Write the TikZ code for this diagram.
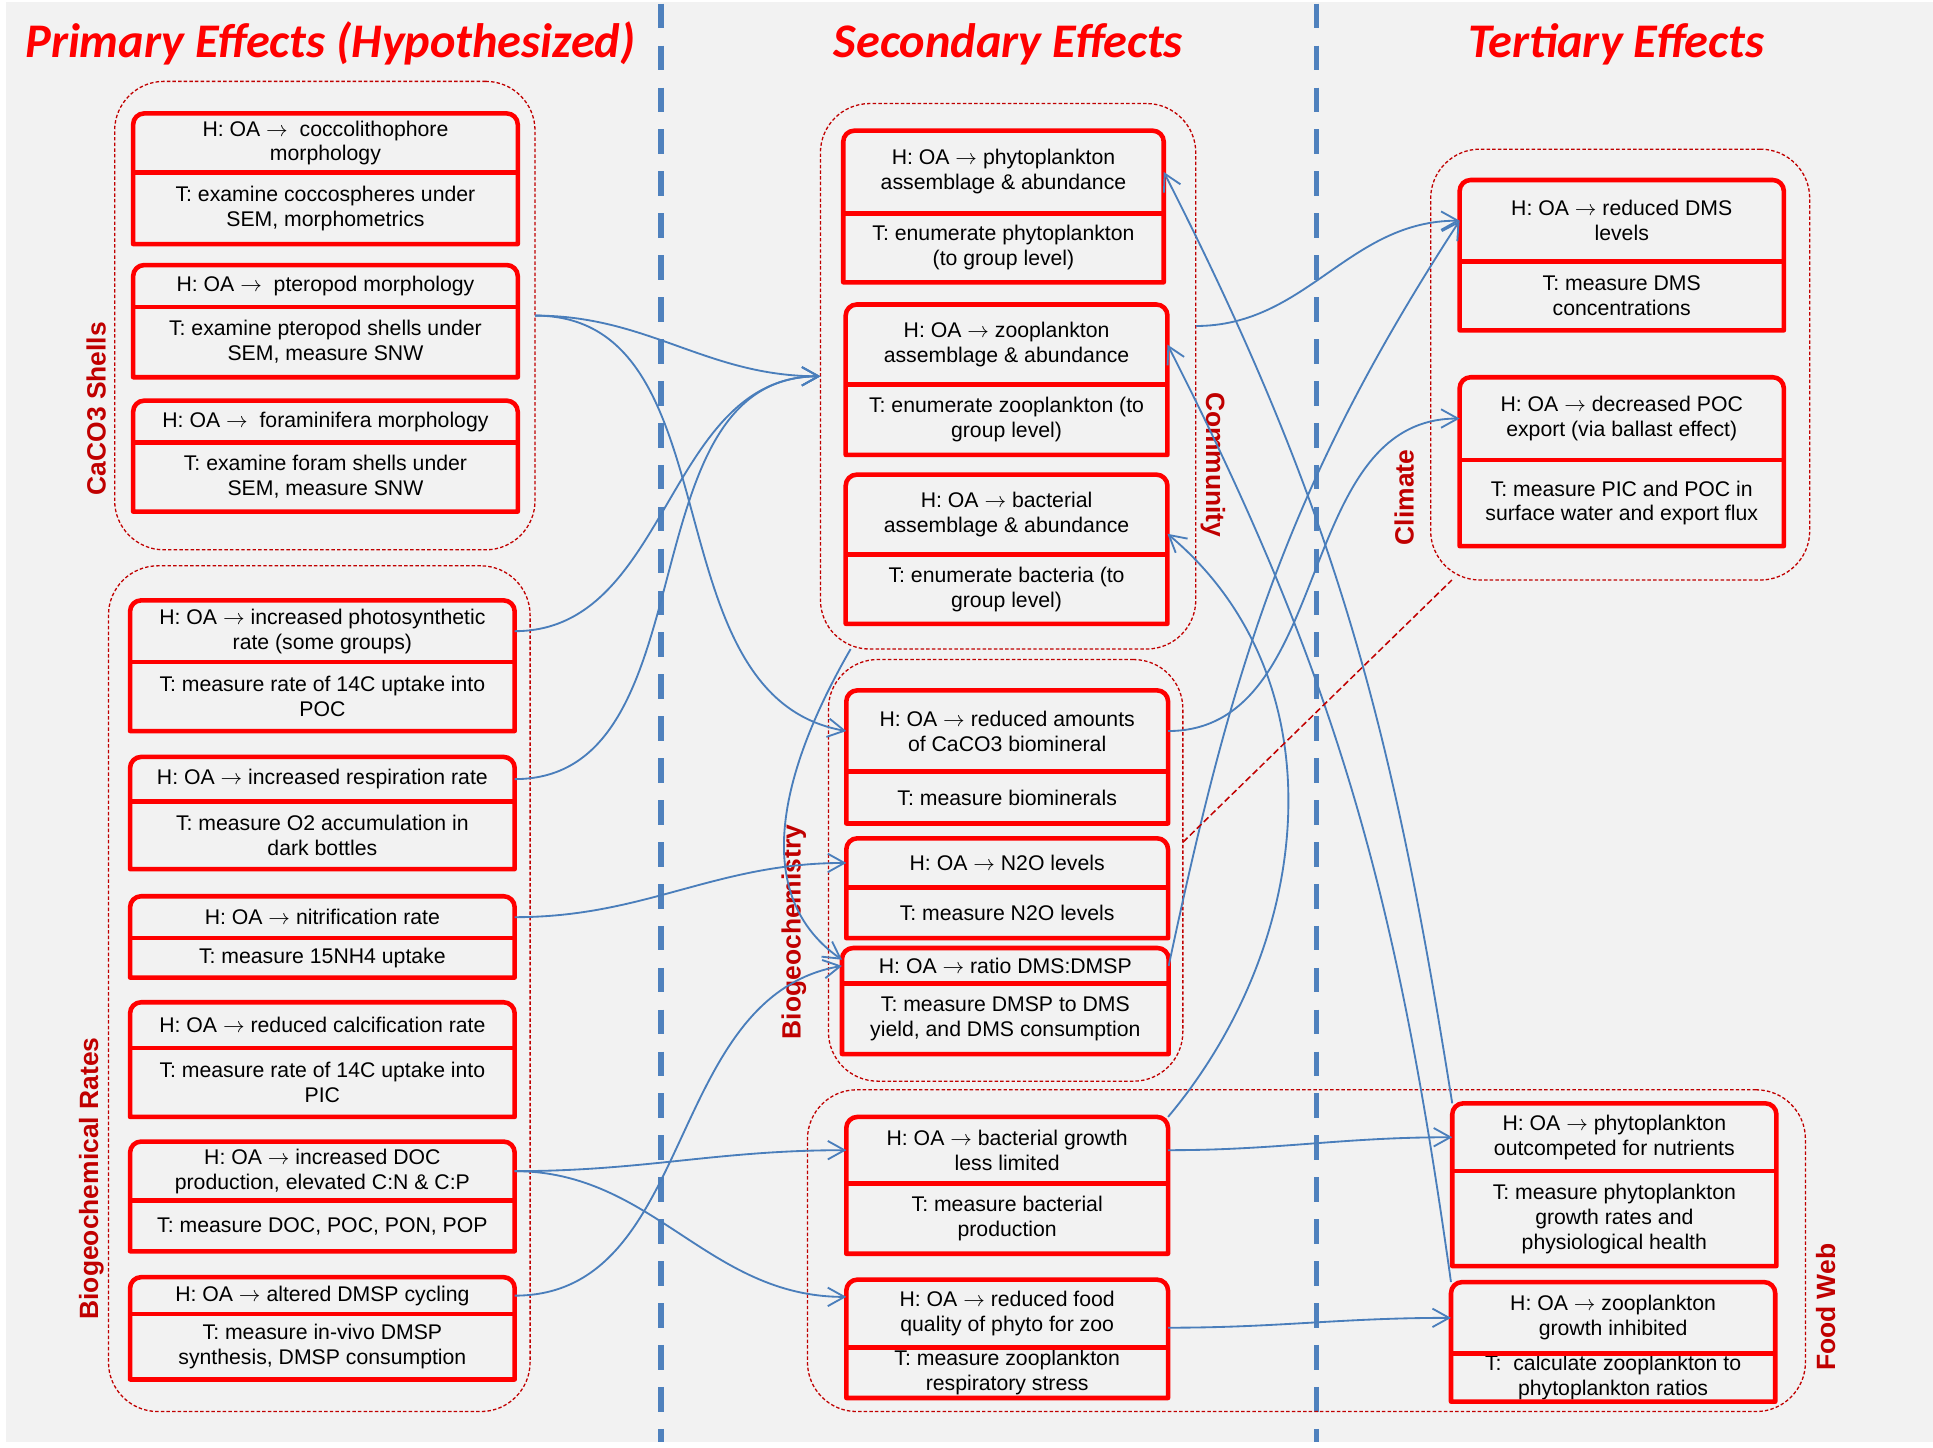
\documentclass[tikz,border=0pt]{standalone}
\usepackage{fontspec}
\setmainfont{Liberation Sans}
\newfontfamily\titlefont{Carlito}
\usetikzlibrary{arrows.meta,positioning}
\definecolor{boxred}{HTML}{FF0000}
\definecolor{grpred}{HTML}{C00000}
\definecolor{linkblue}{HTML}{4A7EBB}
\definecolor{splitblue}{HTML}{4F81BD}
\definecolor{paper}{HTML}{F2F2F2}

% hypothesis / test pair: name, x, width, top, split, bottom, H text, T text
\newcommand{\effect}[8]{%
  \node[hyp, minimum width={#3*0.2mm}, minimum height={(#5-#4)*0.2mm}] (#1h) at (#2,{-(#4+#5)/2}) {#7};
  \node[tst, minimum width={#3*0.2mm}, minimum height={(#6-#5)*0.2mm}, below=0pt of #1h] (#1t) {#8};
  \draw[boxline] (#1t.south west) -- ([yshift=-1.8mm]#1h.north west) arc[start angle=180,end angle=90,radius=1.8mm]
    -- ([xshift=-1.8mm]#1h.north east) arc[start angle=90,end angle=0,radius=1.8mm] -- (#1t.south east) -- cycle;
  \draw[boxline] (#1h.south west) -- (#1h.south east);
}
% dashed group frame: name, x1, y1, x2, y2
\newcommand{\effgroup}[5]{%
  \node[grp, minimum width={(#4-#2)*0.2mm}, minimum height={(#5-#3)*0.2mm}] (#1) at ({(#2+#4)/2},{-(#3+#5)/2}) {};
}

\begin{document}
\begin{tikzpicture}[x=0.2mm,y=0.2mm,
	every node/.style={font=\fontsize{9.8}{11.5}\selectfont, outer sep=0pt},
	hyp/.style={align=center, inner xsep=2pt, inner ysep=0pt},
	tst/.style={align=center, inner xsep=2pt, inner ysep=0pt},
	boxline/.style={draw=boxred, line width=2.1pt, line join=round},
	grp/.style={draw=grpred, line width=0.6pt, dash pattern=on 1.6pt off 1pt, rounded corners=8mm},
	grplabel/.style={text=grpred, font=\fontsize{12.2}{14}\selectfont\bfseries},
	title/.style={text=boxred, anchor=base, font=\titlefont\fontsize{22.3}{26}\selectfont\bfseries\itshape},
	link/.style={draw=linkblue, line width=0.85pt, -{Straight Barb[length=2.7mm,width=3mm]}},
	split/.style={draw=splitblue, line width=2.6pt, dash pattern=on 4mm off 2.8mm}]
\useasboundingbox (0,0) rectangle (1568,-1174);
\fill[paper] (5,-2) rectangle (1568,-1170);

% column dividers
\draw[split] (536,-3) -- (536,-1170);
\draw[split] (1068,-3) -- (1068,-1170);

% titles
\node[title] (primary) at (268,-46.4) {Primary Effects (Hypothesized)};
\node[title] (secondary) at (818,-46.4) {Secondary Effects};
\node[title] (tertiary) at (1311,-46.4) {Tertiary Effects};

% groups
\effgroup{shells}{93}{66}{434}{446}
\effgroup{rates}{88}{459}{430}{1145}
\effgroup{comm}{665.5}{84}{970}{526.5}
\effgroup{bgc}{672}{535}{959.5}{877}
\effgroup{web}{655}{884}{1464.5}{1145}
\effgroup{clim}{1160.5}{121}{1468}{470.5}
\node[grplabel, rotate=90] (shellslab) at (78,-331.5) {CaCO3 Shells};
\node[grplabel, rotate=90] (rateslab) at (74,-956) {Biogeochemical Rates};
\node[grplabel, rotate=-90] (commlab) at (984,-377) {Community};
\node[grplabel, rotate=90] (bgclab) at (644,-756) {Biogeochemistry};
\node[grplabel, rotate=90] (climlab) at (1139,-403.5) {Climate};
\node[grplabel, rotate=90] (weblab) at (1481,-1060.5) {Food Web};

% primary effects
\effect{cocco}{264}{312}{92}{140}{198}{H: OA $\rightarrow$~ coccolithophore\\morphology}{T: examine coccospheres under\\SEM, morphometrics}
\effect{ptero}{264}{312}{215}{249}{306}{H: OA $\rightarrow$~ pteropod morphology}{T: examine pteropod shells under\\SEM, measure SNW}
\effect{foram}{264}{312}{325}{359}{415}{H: OA $\rightarrow$~ foraminifera morphology}{T: examine foram shells under\\SEM, measure SNW}
\effect{photo}{261.5}{312}{487}{537}{593}{H: OA $\rightarrow$ increased photosynthetic\\rate (some groups)}{T: measure rate of 14C uptake into\\POC}
\effect{resp}{261.5}{312}{614}{650}{705}{H: OA $\rightarrow$ increased respiration rate}{T: measure O2 accumulation in\\dark bottles}
\effect{nitri}{261.5}{312}{727}{761}{793}{H: OA $\rightarrow$ nitrification rate}{T: measure 15NH4 uptake}
\effect{calc}{261.5}{312}{813}{850}{906}{H: OA $\rightarrow$ reduced calcification rate}{T: measure rate of 14C uptake into\\PIC}
\effect{doc}{261.5}{312}{926}{974}{1015}{H: OA $\rightarrow$ increased DOC\\production, elevated C:N \& C:P}{T: measure DOC, POC, PON, POP}
\effect{dmspc}{261.5}{312}{1036}{1066}{1119}{H: OA $\rightarrow$ altered DMSP cycling}{T: measure in-vivo DMSP\\synthesis, DMSP consumption}

% secondary effects
\effect{phyto}{814}{260}{106}{173}{229}{H: OA $\rightarrow$ phytoplankton\\assemblage \& abundance}{T: enumerate phytoplankton\\(to group level)}
\effect{zoo}{816.5}{261}{247}{312}{369}{H: OA $\rightarrow$ zooplankton\\assemblage \& abundance}{T: enumerate zooplankton (to\\group level)}
\effect{bact}{816.5}{261}{385}{450}{506}{H: OA $\rightarrow$ bacterial\\assemblage \& abundance}{T: enumerate bacteria (to\\group level)}
\effect{biomin}{817}{261}{560}{626}{668}{H: OA $\rightarrow$ reduced amounts\\of CaCO3 biomineral}{T: measure biominerals}
\effect{ntwo}{817}{261}{680}{720}{761}{H: OA $\rightarrow$ N2O levels}{T: measure N2O levels}
\effect{ratio}{815.5}{265}{769}{798}{855}{H: OA $\rightarrow$ ratio DMS:DMSP}{T: measure DMSP to DMS\\yield, and DMS consumption}
\effect{bgrowth}{817}{261}{906}{960}{1017}{H: OA $\rightarrow$ bacterial growth\\less limited}{T: measure bacterial\\production}
\effect{food}{817}{261}{1038}{1093}{1134}{H: OA $\rightarrow$ reduced food\\quality of phyto for zoo}{T: measure zooplankton\\respiratory stress}

% tertiary effects
\effect{dms}{1315.5}{263}{146}{212}{268}{H: OA $\rightarrow$ reduced DMS\\levels}{T: measure DMS\\concentrations}
\effect{poc}{1315.5}{263}{306}{373}{443}{H: OA $\rightarrow$ decreased POC\\export (via ballast effect)}{T: measure PIC and POC in\\surface water and export flux}
\effect{outcomp}{1309.5}{263}{895}{950}{1027}{H: OA $\rightarrow$ phytoplankton\\outcompeted for nutrients}{T: measure phytoplankton\\growth rates and\\physiological health}
\effect{zgrowth}{1308.5}{263}{1040}{1098}{1137}{H: OA $\rightarrow$ zooplankton\\growth inhibited}{T:~ calculate zooplankton to\\phytoplankton ratios}

% links
\draw[link] (shells.east) to[out=0,in=180] (comm.west);
\draw[link] (shells.east) to[out=0,in=170] (biominh.west);
\draw[link] (photoh.east) to[out=0,in=180] (comm.west);
\draw[link] (resph.east) to[out=0,in=180] (comm.west);
\draw[link] (nitrih.east) to[out=0,in=180] (ntwoh.west);
\draw[link] (doch.east) to[out=0,in=180] (bgrowthh.west);
\draw[link] (doch.east) to[out=0,in=180] ([yshift=2.7mm]foodh.west);
\draw[link] (dmspch.east) to[out=0,in=190] (ratioh.west);
\draw[link] (comm.240) to[out=240,in=145] ([yshift=1mm]ratioh.west);
\draw[link] (comm.15) to[out=0,in=180] (dmsh.west);
\draw[link] (biominh.east) to[out=0,in=180] (poch.west);
\draw[link] (ratioh.east) to[out=78,in=237] (dmsh.west);
\draw[link] (bgrowthh.north east) to[out=50,in=-40] ([yshift=-3.1mm]bacth.east);
\draw[link] (outcomph.north west) to[out=99,in=-63] (phytoh.east);
\draw[link] (zgrowthh.north west) to[out=98,in=-63] (zooh.east);
\draw[link] (bgrowthh.east) to[out=0,in=180] (outcomph.west);
\draw[link] ([yshift=-2.3mm]foodh.east) to[out=0,in=180] (zgrowthh.west);
\draw[grpred, line width=0.7pt, dash pattern=on 3pt off 1.5pt] (bgc.9) -- (clim.232);
\end{tikzpicture}
\end{document}
